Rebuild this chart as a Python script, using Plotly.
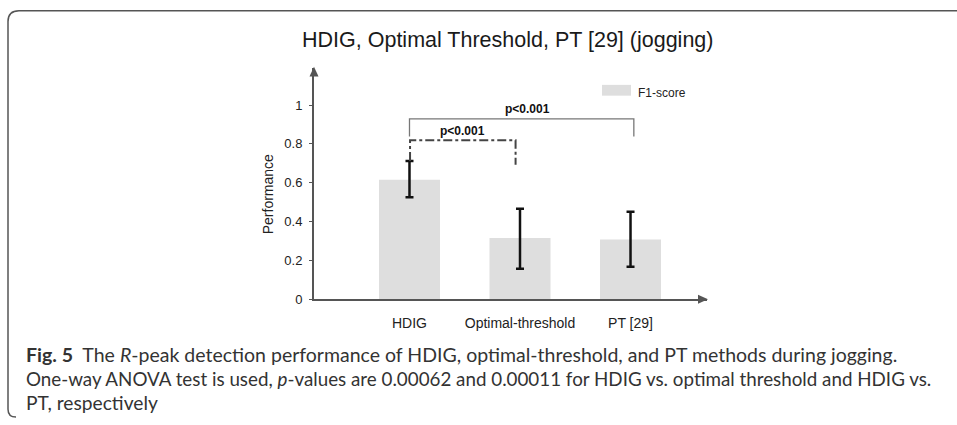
import plotly.graph_objects as go

# ---- data ----
categories = ["HDIG", "Optimal-threshold", "PT [29]"]
f1_score = [0.615, 0.315, 0.308]
err_plus = [0.097, 0.151, 0.143]
err_minus = [0.090, 0.158, 0.141]
y_ticks = [0, 0.2, 0.4, 0.6, 0.8, 1]
y_tick_labels = ["0", "0.2", "0.4", "0.6", "0.8", "1"]
series_name = "F1-score"
title_text = "HDIG, Optimal Threshold, PT [29] (jogging)"
sig_labels = ["p<0.001", "p<0.001"]
caption_lines = [
    "<b>Fig. 5</b>  The <i>R</i>-peak detection performance of HDIG, optimal-threshold, and PT methods during jogging.",
    "One-way ANOVA test is used, <i>p</i>-values are 0.00062 and 0.00011 for HDIG vs. optimal threshold and HDIG vs.",
    "PT, respectively",
]

W, H = 957, 425
def px(x):
    return x / W
def py(y):
    return 1 - y / H

AX = "#555555"
ARIAL = "Liberation Sans, Arial, sans-serif"

fig = go.Figure()
fig.add_trace(go.Bar(
    x=categories, y=f1_score, name=series_name,
    marker=dict(color="#dedede", line=dict(width=0)),
    width=0.552,
    error_y=dict(type="data", symmetric=False, array=err_plus, arrayminus=err_minus,
                 color="#111111", thickness=2.5, width=4),
    showlegend=False,
))

x_left, x_right = 314, 707
y_bottom, y_top = 305, 69
fig.update_layout(
    width=W, height=H,
    margin=dict(l=0, r=0, t=0, b=0),
    paper_bgcolor="white", plot_bgcolor="white",
    xaxis=dict(domain=[px(x_left), px(x_right)], range=[-0.864, 2.692],
               showline=True, linecolor=AX, linewidth=2, ticks="", showgrid=False,
               zeroline=False, tickfont=dict(family=ARIAL, size=14, color="#222"),
               ticklabelstandoff=10),
    yaxis=dict(domain=[py(y_bottom), py(y_top)], range=[0, 1.192],
               showline=True, linecolor=AX, linewidth=2, ticks="outside", ticklen=3,
               tickcolor=AX, tickwidth=1, showgrid=False, zeroline=False,
               tickvals=y_ticks, ticktext=y_tick_labels,
               tickfont=dict(family=ARIAL, size=13, color="#222"), ticklabelstandoff=4),
    font=dict(family=ARIAL),
)

shapes = []
# axis arrowheads
shapes.append(dict(type="path", xref="paper", yref="paper",
                   path=f"M {px(314)} {py(68)} L {px(309.5)} {py(78)} L {px(318.5)} {py(78)} Z",
                   fillcolor=AX, line=dict(width=0)))
shapes.append(dict(type="path", xref="paper", yref="paper",
                   path=f"M {px(708)} {py(305)} L {px(698)} {py(300.5)} L {px(698)} {py(309.5)} Z",
                   fillcolor=AX, line=dict(width=0)))
# significance brackets (data coords)
shapes.append(dict(type="path", xref="x", yref="y",
                   path="M 0 0.838 L 0 0.929 L 2.03 0.929 L 2.03 0.838",
                   line=dict(color="#777777", width=1.3)))
shapes.append(dict(type="path", xref="x", yref="y",
                   path="M 0.005 0.712 L 0.005 0.819 L 0.96 0.819 L 0.96 0.692",
                   line=dict(color="#444444", width=2, dash="dashdot")))
# legend swatch
shapes.append(dict(type="rect", xref="paper", yref="paper",
                   x0=px(602), x1=px(631), y0=py(97.5), y1=py(86.5),
                   fillcolor="#dedede", line=dict(width=0)))
# outer frame
shapes.append(dict(type="path", xref="paper", yref="paper",
                   path=(f"M {px(960)} {py(11)} L {px(19)} {py(11)} Q {px(8)} {py(11)} {px(8)} {py(22)} "
                         f"L {px(8)} {py(417)} Q {px(8)} {py(425)} {px(16)} {py(425)}"),
                   line=dict(color="#555555", width=1.5)))
fig.update_layout(shapes=shapes)

ann = []
ann.append(dict(x=px(507), y=py(41), xref="paper", yref="paper", text=title_text,
                showarrow=False, font=dict(family=ARIAL, size=21.5, color="#1a1a1a"),
                xanchor="center", yanchor="middle"))
ann.append(dict(x=px(268), y=py(198), xref="paper", yref="paper", text="Performance",
                textangle=-90, showarrow=False, font=dict(family=ARIAL, size=14, color="#222"),
                xanchor="center", yanchor="middle"))
ann.append(dict(x=px(636), y=py(95), xref="paper", yref="paper", text=series_name,
                showarrow=False, font=dict(family=ARIAL, size=12, color="#222"),
                xanchor="left", yanchor="middle"))
ann.append(dict(x=1.07, y=0.929, xref="x", yref="y", text="<b>" + sig_labels[0] + "</b>",
                showarrow=False, font=dict(family=ARIAL, size=12, color="#111"),
                xanchor="center", yanchor="middle", yshift=10))
ann.append(dict(x=0.48, y=0.819, xref="x", yref="y", text="<b>" + sig_labels[1] + "</b>",
                showarrow=False, font=dict(family=ARIAL, size=12, color="#111"),
                xanchor="center", yanchor="middle", yshift=9))
cap_y = [361.5, 386, 410.5]
cap_size = [19.5, 18.8, 19.2]
for line, yy, sz in zip(caption_lines, cap_y, cap_size):
    ann.append(dict(x=px(24), y=py(yy), xref="paper", yref="paper", text=line,
                    showarrow=False, font=dict(family="Lato, sans-serif", size=sz, color="#333"),
                    xanchor="left", yanchor="middle"))
fig.update_layout(annotations=ann)

fig.write_html("out.html", config={"displayModeBar": False},
               post_script="document.body.style.margin='0';document.body.style.overflow='hidden';")
